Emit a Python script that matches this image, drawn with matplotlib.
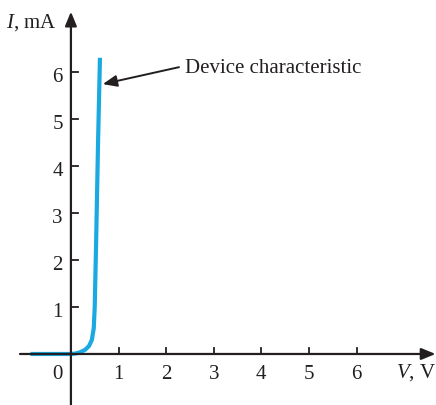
import matplotlib
matplotlib.use("Agg")
import matplotlib.pyplot as plt

plt.rcParams['font.family'] = ['Liberation Serif', 'DejaVu Serif']
plt.rcParams['mathtext.fontset'] = 'custom'
plt.rcParams['mathtext.it'] = 'Liberation Serif:italic'
plt.rcParams['mathtext.rm'] = 'Liberation Serif'

# Data
voltage_V = [-0.85, 0.0, 0.1, 0.2, 0.3, 0.38, 0.44, 0.48, 0.5, 0.53, 0.57, 0.61]
current_mA = [0.0, 0.0, 0.01, 0.04, 0.09, 0.17, 0.3, 0.55, 1.0, 2.4, 4.5, 6.3]
x_ticks = [1, 2, 3, 4, 5, 6]
y_ticks = [1, 2, 3, 4, 5, 6]
x_label = "V, V"
y_label = "I, mA"
annotation = "Device characteristic"

fig = plt.figure(figsize=(4.36, 4.06), dpi=100)
ax = fig.add_axes([0, 0, 1, 1])
ax.set_xlim(-1.49, 7.67)
ax.set_ylim(-1.085, 7.55)
ax.axis('off')

black = '#231f20'
blue = '#1aa9e1'
fs = 15

arrow = dict(arrowstyle='-|>,head_length=0.85,head_width=0.35', color=black, lw=1.6, shrinkA=0, shrinkB=0)

# axes with arrows
ax.annotate('', xy=(7.66, 0), xytext=(-1.07, 0), arrowprops=arrow)
ax.annotate('', xy=(0, 7.28), xytext=(0, -1.09), arrowprops=arrow)

# ticks
for t in x_ticks:
    ax.plot([t, t], [0, 0.13], color=black, lw=1.3)
    ax.text(t, -0.51, str(t), ha='center', va='baseline', fontsize=fs, color=black)
for t in y_ticks:
    ax.plot([0, 0.15], [t, t], color=black, lw=1.3)
    ax.text(-0.17, t - 0.2, str(t), ha='right', va='baseline', fontsize=fs, color=black)
ax.text(-0.17, -0.51, '0', ha='right', va='baseline', fontsize=fs, color=black)

ax.text(-0.29, 6.96, r'$I$, mA', ha='right', va='baseline', fontsize=fs, color=black)
ax.text(7.67, -0.49, r'$V$, V', ha='right', va='baseline', fontsize=fs, color=black)

# curve
ax.plot(voltage_V, current_mA, color=blue, lw=3, solid_capstyle='butt', solid_joinstyle='round')

# annotation
ax.annotate('', xy=(0.67, 5.74), xytext=(2.27, 6.1),
            arrowprops=dict(arrowstyle='-|>,head_length=0.85,head_width=0.35', color=black, lw=1.4, shrinkA=0, shrinkB=0))
ax.text(2.39, 6.0, annotation, ha='left', va='baseline', fontsize=fs, color=black)

fig.savefig('out.png', dpi=100)
